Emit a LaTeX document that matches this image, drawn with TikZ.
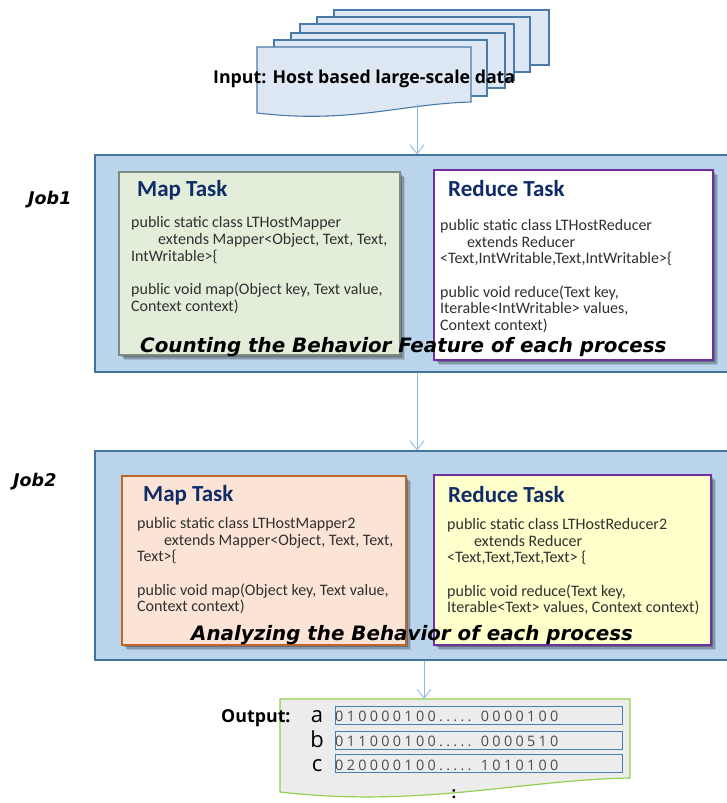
\documentclass[tikz,border=0pt]{standalone}
\usepackage{fontspec}
\setmainfont{Carlito}
\newfontfamily\headfont{DejaVu Sans}
\newfontfamily\labelfont{Open Sans}
\newfontfamily\barfont[LetterSpace=23]{Open Sans}
\usetikzlibrary{shadows,arrows.meta}
\definecolor{sheetfill}{HTML}{DEE8F5}
\definecolor{sheetline}{HTML}{4A7AA8}
\definecolor{jobfill}{HTML}{BAD4EC}
\definecolor{jobline}{HTML}{44749F}
\definecolor{mapgreen}{HTML}{E2EEDA}
\definecolor{mapline}{HTML}{7F8A80}
\definecolor{maporange}{HTML}{FBE3D6}
\definecolor{orangeline}{HTML}{C0642A}
\definecolor{purpleline}{HTML}{7030A0}
\definecolor{yellowfill}{HTML}{FFFFCC}
\definecolor{navytext}{HTML}{0F2C68}
\definecolor{codetext}{HTML}{303030}
\definecolor{arrowblue}{HTML}{8DB8E4}
\definecolor{outfill}{HTML}{ECECEC}
\definecolor{outline}{HTML}{92D050}
\definecolor{barline}{HTML}{4A7EB0}
\tikzset{
  sheet/.style={draw=sheetline,fill=sheetfill,line width=1.1pt,line join=miter},
  jobbox/.style={draw=jobline,fill=jobfill,line width=1.2pt,rectangle,inner sep=0pt},
  softshadow/.style={
    drop shadow={shadow xshift=4.5pt,shadow yshift=-4.5pt,fill=black,opacity=.12},
    drop shadow={shadow xshift=3.5pt,shadow yshift=-3.5pt,fill=black,opacity=.18},
    drop shadow={shadow xshift=2.2pt,shadow yshift=-2.2pt,fill=black,opacity=.25}},
  taskbox/.style={rectangle,inner sep=0pt,line width=1.3pt,softshadow},
  flow/.style={draw=arrowblue,line width=0.9pt,-{Straight Barb[length=9pt,width=14pt]}},
  tasktitle/.style={anchor=base west,inner sep=0pt,text=navytext,font=\fontsize{23}{26}\selectfont\bfseries},
  code/.style={anchor=north west,inner sep=0pt,align=left,text=codetext,font=\fontsize{16}{16.7}\selectfont},
  jobname/.style={anchor=base west,inner sep=0pt,font=\headfont\fontsize{17.5}{20}\selectfont\bfseries\itshape},
  banner/.style={anchor=base west,inner sep=0pt,font=\headfont\fontsize{19.85}{24}\selectfont\bfseries\itshape},
  bar/.style={rectangle,draw=barline,fill=outfill,line width=0.9pt,inner sep=0pt,minimum width=287pt,minimum height=18pt},
  bartext/.style={anchor=base west,inner sep=0pt,text=black!70,font=\barfont\fontsize{14.4}{16}\selectfont},
  letter/.style={anchor=base,inner sep=0pt,font=\labelfont\fontsize{22}{24}\selectfont},
}
\begin{document}
\begin{tikzpicture}[x=1pt,y=-1pt]
\useasboundingbox (0,0) rectangle (727,803);
% stacked input sheets
\draw[sheet] (334,10) rectangle (549,65);
\draw[sheet] (317,17) rectangle (530,72);
\draw[sheet] (300,24) rectangle (514,80);
\draw[sheet] (291,33) rectangle (505,88);
\draw[sheet] (274,40) rectangle (487,96);
\draw[sheet] (257,47) -- (471,47) -- (471,102)
  .. controls (400,104) and (350,124) .. (257,113) -- cycle;
\coordinate (inputfoot) at (417,104);
\node[anchor=base west,inner sep=0pt,font=\labelfont\fontsize{17.75}{20}\selectfont\bfseries] (inputlabel) at (213,83) {Input: Host based large-scale data};
% job boxes
\node[jobbox,minimum width=634pt,minimum height=217pt] (job1) at (412,263.5) {};
\node[jobbox,minimum width=634pt,minimum height=209pt] (job2) at (412,555.5) {};
\node[jobname] (job1label) at (28,204) {Job1};
\node[jobname] (job2label) at (13,486) {Job2};
% job 1 tasks
\node[taskbox,draw=mapline,fill=mapgreen,minimum width=281pt,minimum height=183pt] (map1) at (259.5,263.5) {};
\node[taskbox,draw=purpleline,fill=white,minimum width=279pt,minimum height=190pt] (red1) at (573.5,265) {};
\node[tasktitle] (map1t) at (137,196) {Map Task};
\node[tasktitle] (red1t) at (448,196) {Reduce Task};
\node[code] (map1c) at (131,216.5) {public static class LTHostMapper\\\hspace*{27pt}extends Mapper<Object, Text, Text,\\IntWritable>\{\\[16.7pt]public void map(Object key, Text value,\\Context context)};
\node[code] (red1c) at (440,219) {public static class LTHostReducer\\\hspace*{27pt}extends Reducer\\<Text,IntWritable,Text,IntWritable>\{\\[16.7pt]public void reduce(Text key,\\Iterable<IntWritable> values,\\Context context)};
\node[banner] (ban1) at (140,352) {Counting the Behavior Feature of each process};
% job 2 tasks
\node[taskbox,draw=orangeline,fill=maporange,minimum width=284pt,minimum height=169pt] (map2) at (264,560.5) {};
\node[taskbox,draw=purpleline,fill=yellowfill,minimum width=277pt,minimum height=170pt] (red2) at (572.5,560) {};
\node[tasktitle] (map2t) at (143,501) {Map Task};
\node[tasktitle] (red2t) at (448,502) {Reduce Task};
\node[code] (map2c) at (137,517) {public static class LTHostMapper2\\\hspace*{27pt}extends Mapper<Object, Text, Text,\\Text>\{\\[16.7pt]public void map(Object key, Text value,\\Context context)};
\node[code] (red2c) at (447,518) {public static class LTHostReducer2\\\hspace*{27pt}extends Reducer\\<Text,Text,Text,Text> \{\\[16.7pt]public void reduce(Text key,\\Iterable<Text> values, Context context)};
\node[banner] (ban2) at (191,640) {Analyzing the Behavior of each process};
% output
\draw[draw=outline,fill=outfill,line width=1.2pt] (280,699) -- (630,699) -- (630,778)
  .. controls (520,780) and (420,808) .. (280,792) -- cycle;
\coordinate (outtop) at (424,699);
\node[anchor=base west,inner sep=0pt,font=\labelfont\fontsize{17.8}{18}\selectfont\bfseries] (outlabel) at (221,722) {Output:};
\node[bar] (bara) at (478.5,715) {};
\node[bar] (barb) at (478.5,740) {};
\node[bar] (barc) at (478.5,763.5) {};
\node[letter] (la) at (317,722) {a};
\node[letter] (lb) at (317,747) {b};
\node[letter] (lc) at (317,771) {c};
\node[bartext] (ta) at (335,721) {010000100..... 0000100};
\node[bartext] (tb) at (335,746) {011000100..... 0000510};
\node[bartext] (tc) at (335,770) {020000100..... 1010100};
\node[anchor=base,inner sep=0pt,font=\labelfont\fontsize{16}{18}\selectfont\bfseries] (dots) at (454,798) {:};
% connectors
\draw[flow] (inputfoot) -- (inputfoot |- job1.north);
\draw[flow] (inputfoot |- job1.south) -- (inputfoot |- job2.north);
\draw[flow] (outtop |- job2.south) -- (outtop);
\end{tikzpicture}
\end{document}
